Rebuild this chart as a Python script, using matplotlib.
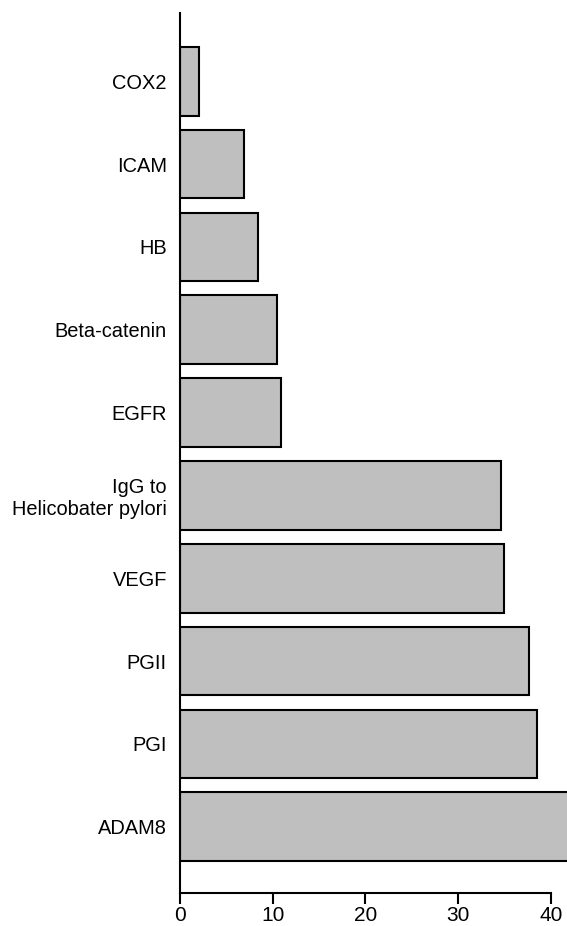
import matplotlib.pyplot as plt
import numpy as np

plt.rcParams['font.family'] = ['Liberation Sans', 'DejaVu Sans']

# categories from bottom to top
labels = ["ADAM8", "PGI", "PGII", "VEGF", "IgG to\nHelicobater pylori",
          "EGFR", "Beta-catenin", "HB", "ICAM", "COX2"]
values = [42.5, 38.5, 37.7, 35.0, 34.6, 10.9, 10.5, 8.4, 6.9, 2.1]
xticks = [0, 10, 20, 30, 40]

fig = plt.figure(figsize=(5.67, 9.26), dpi=100)
ax = fig.add_axes([0.3175, 0.0356, 0.6825, 0.95])

y = np.arange(len(labels))
ax.barh(y, values, height=0.83, color='#bfbfbf', edgecolor='black', linewidth=1.5)

ax.set_xlim(0, 41.75)
ax.set_ylim(-0.8, 9.82)
ax.set_yticks(y)
ax.set_yticklabels(labels, fontsize=14.4)
ax.set_xticks(xticks)
ax.tick_params(axis='x', labelsize=15, length=8.2, width=1.5, pad=1)
ax.tick_params(axis='y', length=0, pad=9.4)

for s in ['top', 'right']:
    ax.spines[s].set_visible(False)
for s in ['left', 'bottom']:
    ax.spines[s].set_linewidth(1.5)
ax.spines['bottom'].set_bounds(0, 40)

plt.savefig("out.png", dpi=100)
